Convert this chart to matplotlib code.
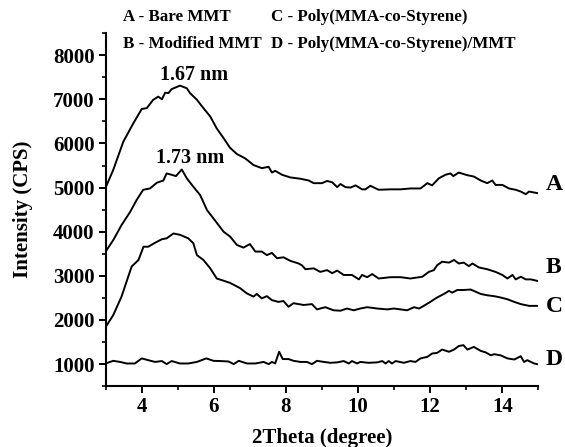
import matplotlib
matplotlib.use("Agg")
import matplotlib.pyplot as plt
from matplotlib.ticker import MultipleLocator

plt.rcParams["font.family"] = ["Liberation Serif", "DejaVu Serif"]
plt.rcParams["font.weight"] = "bold"

# -------------------------
# Data
# -------------------------

a_x = [3.0, 3.21, 3.49, 3.77, 4.0, 4.14, 4.32, 4.46, 4.56, 4.65, 4.74, 4.83, 5.06,
       5.25, 5.34, 5.53, 5.71, 5.9, 6.08, 6.27, 6.45, 6.64, 6.87, 7.1, 7.33, 7.52,
       7.61, 7.7, 7.89, 8.12, 8.4, 8.63, 8.77, 9.0, 9.14, 9.28, 9.42, 9.51, 9.65,
       9.79, 9.93, 10.11, 10.2, 10.34, 10.57, 10.9, 11.18, 11.45, 11.73, 11.92,
       12.05, 12.24, 12.42, 12.56, 12.64, 12.79, 13.03, 13.21, 13.4, 13.58, 13.72,
       13.81, 14.0, 14.18, 14.37, 14.51, 14.65, 14.74, 15.0]
a_y = [5000, 5400, 6040, 6460, 6780, 6800, 6990, 7060, 7000, 7150, 7140, 7230, 7310,
       7250, 7140, 6990, 6800, 6610, 6340, 6120, 5900, 5760, 5660, 5510, 5440, 5470,
       5340, 5380, 5290, 5230, 5200, 5160, 5100, 5100, 5150, 5120, 5010, 5080, 5010,
       5000, 5050, 4960, 4960, 5040, 4950, 4960, 4960, 4980, 4980, 5100,
       5050, 5210, 5290, 5320, 5260, 5340, 5280, 5250, 5160, 5100, 5160,
       5060, 5060, 4980, 4950, 4910, 4850, 4910, 4870]

b_x = [3.0, 3.21, 3.44, 3.68, 3.86, 4.04, 4.23, 4.42, 4.6, 4.69, 4.83, 4.95, 5.11,
       5.25, 5.43, 5.62, 5.81, 5.99, 6.13, 6.27, 6.45, 6.64, 6.82, 7.0, 7.15, 7.33,
       7.47, 7.61, 7.75, 7.93, 8.12, 8.35, 8.44, 8.54, 8.77, 8.95, 9.14, 9.28, 9.42,
       9.6, 9.83, 10.02, 10.11, 10.25, 10.39, 10.57, 10.9, 11.18, 11.45, 11.78,
       11.96, 12.1, 12.19, 12.33, 12.52, 12.66, 12.79, 12.93, 13.07, 13.17, 13.35,
       13.58, 13.81, 14.0, 14.14, 14.28, 14.37, 14.51, 14.65, 14.79, 15.0]
b_y = [3550, 3810, 4150, 4450, 4720, 4950, 4980, 5110, 5160, 5320, 5290, 5260, 5410,
       5210, 5020, 4830, 4490, 4300, 4150, 4000, 3890, 3700, 3640, 3720, 3550, 3550,
       3470, 3520, 3400, 3420, 3340, 3280, 3240, 3150, 3170, 3090, 3130, 3060, 3120,
       3020, 3020, 2920, 3020, 2970, 3040, 2940, 2970, 2970, 2940, 2980,
       3090, 3130, 3240, 3320, 3300, 3360, 3280, 3300, 3220, 3280, 3190,
       3150, 3090, 3020, 2940, 3020, 2920, 2980, 2920, 2920, 2880]

c_x = [3.03, 3.21, 3.44, 3.58, 3.72, 3.91, 4.05, 4.18, 4.37, 4.56, 4.69, 4.88, 5.06,
       5.29, 5.43, 5.53, 5.71, 5.9, 6.08, 6.27, 6.45, 6.73, 6.92, 7.1, 7.19, 7.33,
       7.47, 7.61, 7.79, 7.93, 8.07, 8.21, 8.49, 8.72, 8.86, 9.09, 9.32, 9.51, 9.69,
       9.88, 10.06, 10.25, 10.53, 10.81, 10.99, 11.18, 11.36, 11.55, 11.69, 11.82,
       12.0, 12.19, 12.38, 12.52, 12.61, 12.75, 12.93, 13.12, 13.26, 13.4, 13.58,
       13.77, 13.95, 14.14, 14.33, 14.51, 14.74, 15.0]
c_y = [1880, 2110, 2530, 2870, 3210, 3360, 3660, 3660, 3750, 3830, 3850, 3960, 3930,
       3850, 3740, 3470, 3360, 3170, 2940, 2890, 2840, 2720, 2600, 2530, 2590, 2490,
       2540, 2450, 2410, 2430, 2300, 2380, 2340, 2360, 2240, 2290, 2220, 2210, 2260,
       2220, 2260, 2290, 2260, 2240, 2260, 2240, 2220, 2290, 2260, 2320,
       2410, 2510, 2590, 2660, 2620, 2680, 2680, 2690, 2640, 2590, 2560,
       2540, 2510, 2470, 2410, 2360, 2320, 2320]

d_x = [3.0, 3.21, 3.4, 3.58, 3.81, 4.0, 4.18, 4.37, 4.56, 4.69, 4.83, 5.06, 5.29,
       5.53, 5.79, 5.99, 6.17, 6.41, 6.55, 6.69, 6.92, 7.15, 7.38, 7.52, 7.61, 7.7,
       7.81, 7.91, 8.07, 8.21, 8.4, 8.58, 8.72, 8.86, 9.05, 9.23, 9.42, 9.6, 9.74,
       9.83, 9.97, 10.06, 10.29, 10.53, 10.67, 10.76, 10.85, 10.94, 11.04, 11.27,
       11.45, 11.59, 11.73, 11.92, 12.05, 12.19, 12.33, 12.52, 12.66, 12.79, 12.92,
       13.03, 13.21, 13.4, 13.54, 13.68, 13.77, 13.95, 14.14, 14.33, 14.51, 14.6,
       14.69, 14.88, 14.96]
d_y = [1015, 1075, 1050, 1015, 1015, 1130, 1090, 1050, 1070, 1000, 1070, 1015, 1015,
       1050, 1130, 1075, 1070, 1060, 1000, 1075, 1015, 1015, 1050, 1000, 1050, 1015,
       1280, 1115, 1115, 1075, 1050, 1050, 1000, 1075, 1050, 1030, 1040, 1070, 1015,
       1070, 1015, 1050, 1030, 1040, 1070, 1015, 1070, 1015, 1070, 1030,
       1070, 1050, 1130, 1165, 1240, 1255, 1330, 1280, 1330, 1410, 1430,
       1330, 1390, 1300, 1265, 1200, 1225, 1200, 1130, 1105, 1180, 1050,
       1090, 1015, 1000]

curve_labels = ["A", "B", "C", "D"]
label_y = [5060, 3180, 2300, 1110]

legend_rows = [["A - Bare MMT", "C - Poly(MMA-co-Styrene)"],
               ["B - Modified MMT", "D - Poly(MMA-co-Styrene)/MMT"]]

peak_text = ["1.67 nm", "1.73 nm"]
peak_x = [5.45, 5.35]
peak_y = [7560, 5680]

# -------------------------
# Plot
# -------------------------

fig = plt.figure(figsize=(5.65, 4.47), dpi=100)
ax = fig.add_axes([0.187, 0.136, 0.766, 0.790])

for xs, ys in [(a_x, a_y), (b_x, b_y), (c_x, c_y), (d_x, d_y)]:
    ax.plot(xs, ys, color="black", lw=1.4)

ax.set_xlim(3, 15)
ax.set_ylim(500, 8500)
ax.xaxis.set_major_locator(MultipleLocator(2))
ax.xaxis.set_minor_locator(MultipleLocator(1))
ax.yaxis.set_minor_locator(MultipleLocator(500))
ax.set_yticks(range(1000, 9000, 1000))

for s in ["top", "right"]:
    ax.spines[s].set_visible(False)
for s in ["left", "bottom"]:
    ax.spines[s].set_linewidth(1.5)

ax.tick_params(which="major", direction="out", length=5, width=1.4,
               labelsize=15, pad=3)
ax.tick_params(which="minor", direction="out", length=3, width=1.2)
for t in ax.get_xticklabels() + ax.get_yticklabels():
    t.set_fontweight("bold")

ax.set_xlabel("2Theta (degree)", fontsize=15, fontweight="bold", labelpad=8)
ax.set_ylabel("Intensity (CPS)", fontsize=15, fontweight="bold", labelpad=14)

for lab, yv in zip(curve_labels, label_y):
    ax.text(15.2, yv, lab, fontsize=17, fontweight="bold",
            va="center", ha="left", clip_on=False)

for txt, xv, yv in zip(peak_text, peak_x, peak_y):
    ax.text(xv, yv, txt, fontsize=14.5, fontweight="bold",
            ha="center", va="center")

row_y = [0.962, 0.902]
for row, yv in zip(legend_rows, row_y):
    fig.text(0.218, yv, row[0], fontsize=12.2, fontweight="bold", va="center")
    fig.text(0.480, yv, row[1], fontsize=12.2, fontweight="bold", va="center")

fig.savefig("out.png", dpi=100)
